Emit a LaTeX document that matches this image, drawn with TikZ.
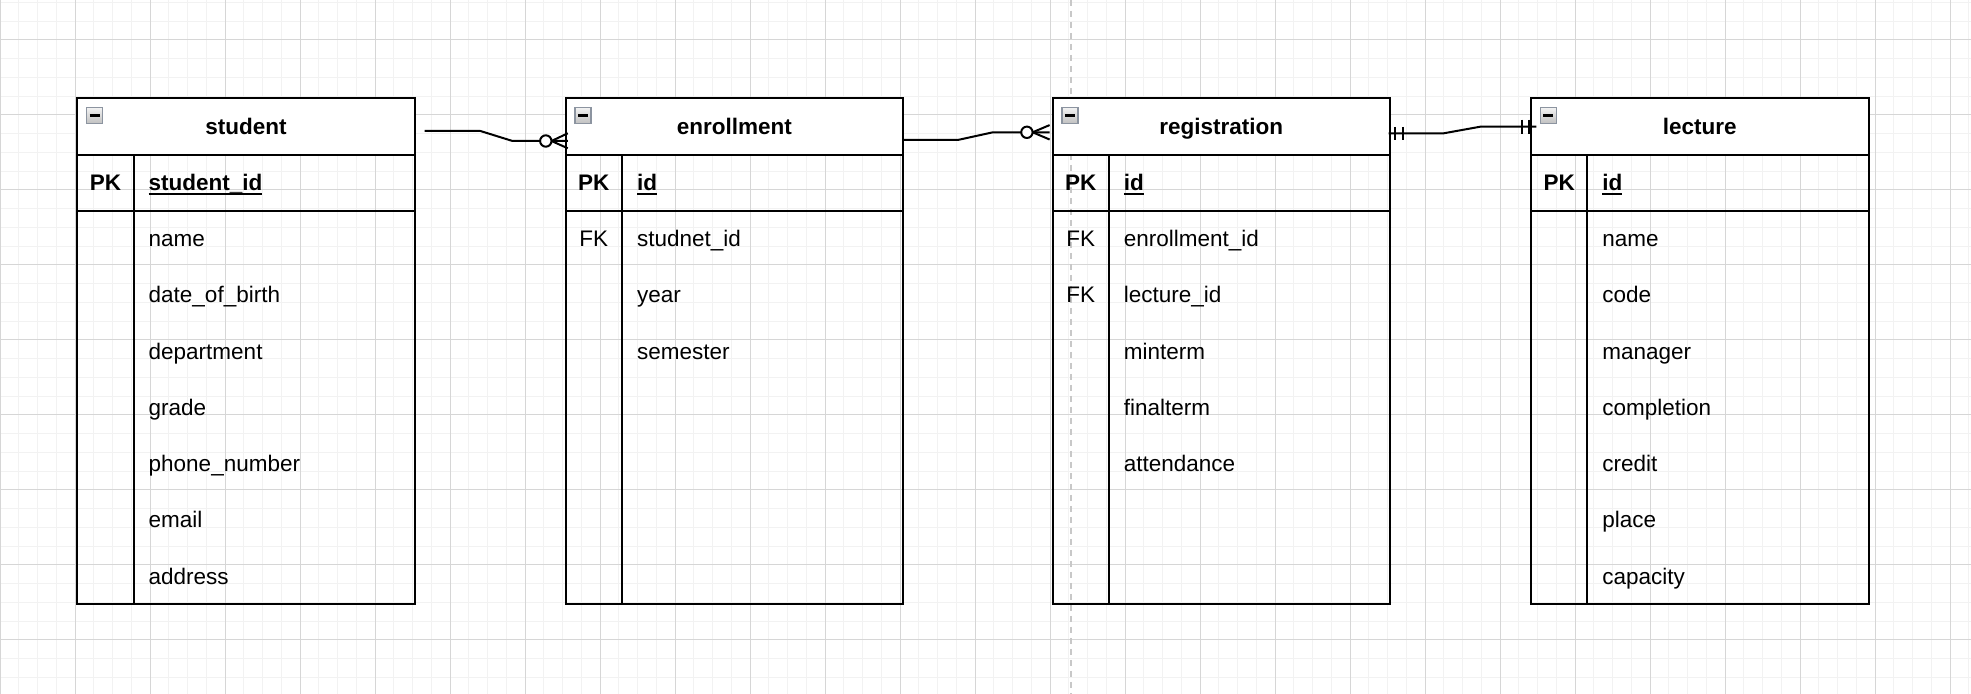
\documentclass[tikz,border=0pt]{standalone}
\usepackage{fontspec}
\setmainfont{Liberation Sans}
\usetikzlibrary{calc}
\definecolor{minorgrid}{HTML}{F2F2F2}
\definecolor{majorgrid}{HTML}{D6D6D6}
\definecolor{dashgrey}{HTML}{C8C8C8}
\definecolor{iconborder}{HTML}{8C94A0}
\newlength\ulw
\newcommand\myul[1]{\settowidth\ulw{#1}\rlap{\rule[-2.4pt]{\ulw}{0.95pt}}#1}
\tikzset{
  tline/.style={line width=1pt, black},
  conn/.style={line width=1pt, black, line join=round},
  hdrbox/.style={rectangle, fill=white, inner sep=0pt, minimum width=168.75pt, minimum height=28.125pt,
     text height=9pt, text depth=1.2pt, font=\fontsize{11.25pt}{13.5pt}\selectfont\bfseries},
  keytext/.style={inner sep=0pt, text height=9pt, text depth=1.2pt, font=\fontsize{11.25pt}{13.5pt}\selectfont},
  fieldtext/.style={inner sep=0pt, anchor=west, text height=9pt, text depth=1.2pt, font=\fontsize{11.25pt}{13.5pt}\selectfont},
}
\newcommand\ertable[5]{%
  \node[hdrbox] (#1) at (#2+168.75,126.4) {#3};
  \shade[top color=gray!10, bottom color=gray!50] (#2+9.4,107.7) rectangle ++(16,16);
  \draw[iconborder, line width=0.7pt] (#2+9.4,107.7) rectangle ++(16,16);
  \draw[line width=1.3pt] (#2+12.4,115.7) -- ++(10,0);
  \draw[tline] (#2,98.3) rectangle (#2+337.5,604.5);
  \draw[tline] (#2,154.55) -- (#2+337.5,154.55);
  \draw[tline] (#2,210.8) -- (#2+337.5,210.8);
  \draw[tline] (#2+56.25,154.55) -- (#2+56.25,604.5);
  \node[keytext, font=\fontsize{11.25pt}{13.5pt}\selectfont\bfseries] (#1-pkk) at (#2+28.125,182.7) {PK};
  \node[fieldtext, font=\fontsize{11.25pt}{13.5pt}\selectfont\bfseries] (#1-pkf) at (#2+71,182.7) {\myul{#4}};
  \foreach \k/\f [count=\n] in {#5} {
    \node[keytext] (#1-k\n) at (#2+28.125,{210.8+(\n-0.5)*56.25}) {\k};
    \node[fieldtext] (#1-f\n) at (#2+71,{210.8+(\n-0.5)*56.25}) {\f};
  }%
}
\begin{document}
\begin{tikzpicture}[x=0.5pt,y=-0.5pt]
\useasboundingbox (0,0) rectangle (1971,694);
\fill[white] (0,0) rectangle (1971,694);
% grid
\foreach \i in {0,...,105} \draw[minorgrid, line width=0.5pt] (\i*18.75,0) -- (\i*18.75,694);
\foreach \j in {0,...,36} \draw[minorgrid, line width=0.5pt] (0,2.5+\j*18.75) -- (1971,2.5+\j*18.75);
\foreach \i in {0,...,26} \draw[majorgrid, line width=0.5pt] (\i*75,0) -- (\i*75,694);
\foreach \j in {0,...,8} \draw[majorgrid, line width=0.5pt] (0,40+\j*75) -- (1971,40+\j*75);
\draw[dashgrey, line width=1pt, dash pattern=on 2.8pt off 2.7pt] (1071,0) -- (1071,694);
% tables
\ertable{student}{77.3}{student}{student\_id}{/name,/date\_of\_birth,/department,/grade,/phone\_number,/email,/address}
\ertable{enrollment}{565.7}{enrollment}{id}{FK/studnet\_id,/year,/semester,/,/,/,/}
\ertable{registration}{1052.5}{registration}{id}{FK/enrollment\_id,FK/lecture\_id,/minterm,/finalterm,/attendance,/,/}
\ertable{lecture}{1531}{lecture}{id}{/name,/code,/manager,/completion,/credit,/place,/capacity}
% connector 1: student -> enrollment (zero to many)
\coordinate (c1s) at ($(student.east)+(9.5,4.6)$);
\coordinate (c1e) at ($(enrollment.west)+(2.5,14.6)$);
\draw[conn] (c1s) -- ($(c1s)+(55.7,0)$) -- ($(c1e)+(-55.3,0)$) -- (c1e);
\draw[conn] ($(c1e)+(-16.3,0)$) -- ($(c1e)+(0,-7.7)$) ($(c1e)+(-16.3,0)$) -- ($(c1e)+(0,7.3)$);
\draw[conn, fill=white] ($(c1e)+(-22,0)$) circle (2.85pt);
% connector 2: enrollment -> registration (zero to many)
\coordinate (c2s) at ($(enrollment.east)+(0,13.6)$);
\coordinate (c2e) at ($(registration.west)+(-2.5,5.9)$);
\draw[conn] (c2s) -- ($(c2s)+(54.1,0)$) -- ($(c2e)+(-56.7,0)$) -- (c2e);
\draw[conn] ($(c2e)+(-17,0)$) -- ($(c2e)+(0,-7.2)$) ($(c2e)+(-17,0)$) -- ($(c2e)+(0,7.2)$);
\draw[conn, fill=white] ($(c2e)+(-22.7,0)$) circle (2.85pt);
% connector 3: registration -> lecture (one to one)
\coordinate (c3s) at ($(registration.east)+(-1.7,6.9)$);
\coordinate (c3e) at ($(lecture.west)+(5.7,0.3)$);
\draw[conn] (c3s) -- ($(c3s)+(55,0)$) -- ($(c3e)+(-56,0)$) -- (c3e);
\draw[conn] ($(c3s)+(6.7,-6.5)$) -- ($(c3s)+(6.7,6.5)$);
\draw[conn] ($(c3s)+(14,-6.5)$) -- ($(c3s)+(14,6.5)$);
\draw[conn] ($(c3e)+(-14.4,-7)$) -- ($(c3e)+(-14.4,7)$);
\draw[conn] ($(c3e)+(-7.4,-7)$) -- ($(c3e)+(-7.4,7)$);
\end{tikzpicture}
\end{document}
